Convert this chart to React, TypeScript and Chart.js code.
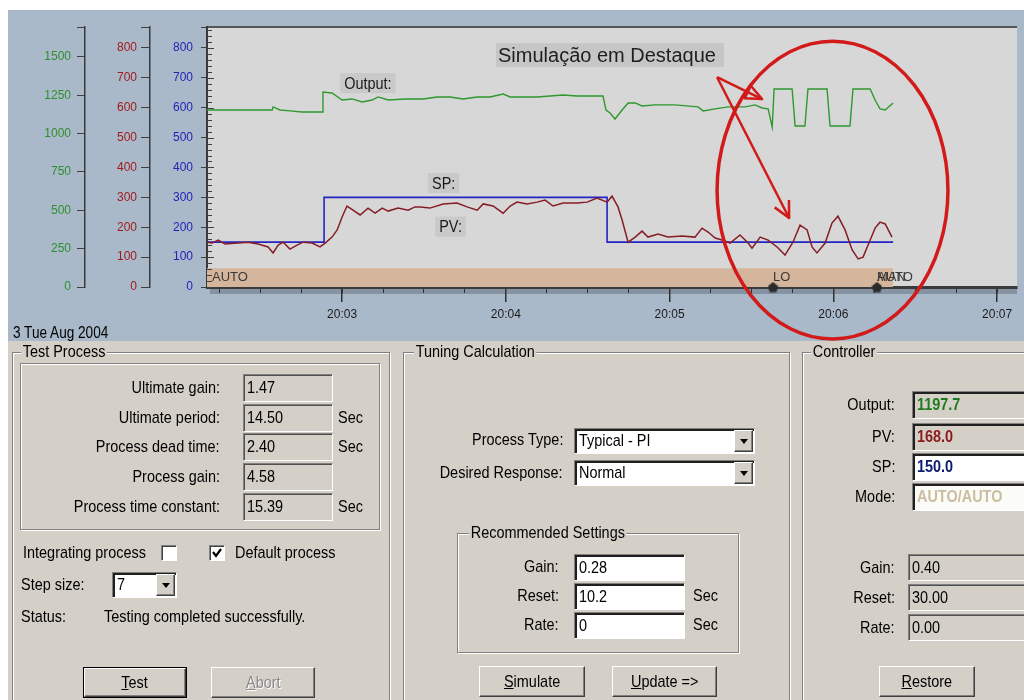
import React, { useEffect, useRef } from "react";
import { Chart, registerables } from "chart.js";

Chart.register(...registerables);

// ---------------- data (x = seconds after 20:00:00) ----------------
const outputTimes = [130.5, 154.4, 154.7, 157.3, 160.9, 165.3, 172.7, 173.0, 176.3, 180.0, 183.7, 187.3, 191.0, 193.2, 196.9, 203.1, 209.7, 214.8, 219.6, 224.3, 229.5, 234.2, 239.0, 241.6, 246.3, 251.4, 256.2, 261.0, 266.1, 275.6, 276.7, 278.2, 280.0, 282.6, 284.8, 287.4, 289.9, 294.7, 302.0, 310.4, 312.3, 316.7, 321.4, 327.7, 331.3, 333.9, 336.1, 337.6, 338.3, 344.9, 346.0, 349.6, 350.7, 357.7, 358.8, 366.1, 367.2, 373.5, 375.3, 377.1, 379.0, 381.9];
const outputValues = [1154, 1154, 1174, 1154, 1148, 1141, 1141, 1271, 1265, 1219, 1226, 1206, 1219, 1239, 1219, 1226, 1226, 1239, 1239, 1226, 1239, 1239, 1258, 1239, 1239, 1239, 1245, 1252, 1245, 1245, 1154, 1134, 1095, 1154, 1200, 1200, 1180, 1187, 1187, 1174, 1148, 1161, 1174, 1174, 1187, 1167, 1161, 1043, 1291, 1291, 1050, 1050, 1291, 1291, 1050, 1050, 1291, 1291, 1219, 1161, 1154, 1200];

const pvTimes = [130.5, 132.4, 134.6, 137.1, 141.9, 145.6, 149.2, 152.9, 154.7, 156.6, 158.4, 160.9, 163.5, 165.7, 169.0, 171.9, 173.8, 176.3, 178.2, 180.0, 181.8, 184.0, 186.6, 189.5, 192.1, 194.7, 196.9, 200.5, 204.2, 206.7, 208.6, 212.2, 217.0, 222.1, 225.8, 229.5, 231.7, 235.3, 239.0, 241.6, 244.1, 247.8, 251.4, 254.4, 257.3, 261.0, 266.1, 269.8, 273.4, 277.1, 278.9, 281.1, 282.6, 284.8, 287.4, 289.9, 292.1, 295.8, 299.4, 304.6, 309.3, 311.9, 314.1, 316.7, 319.2, 322.2, 325.8, 328.8, 330.2, 333.2, 336.1, 339.4, 342.3, 345.2, 347.8, 350.4, 352.2, 354.0, 357.0, 359.5, 361.7, 364.3, 366.9, 369.1, 370.9, 373.5, 375.3, 377.1, 379.0, 381.5];
const pvValues = [150, 147, 157, 144, 147, 150, 144, 134, 114, 140, 150, 127, 140, 150, 147, 134, 147, 167, 191, 234, 271, 257, 241, 264, 247, 264, 254, 264, 257, 268, 268, 264, 278, 281, 268, 257, 278, 271, 247, 271, 284, 278, 284, 291, 271, 281, 281, 284, 298, 284, 304, 268, 224, 150, 167, 187, 167, 177, 167, 171, 167, 197, 184, 164, 157, 147, 174, 147, 130, 167, 157, 134, 107, 150, 207, 191, 134, 114, 147, 214, 237, 191, 124, 94, 100, 157, 197, 217, 211, 167];

const spTimes = [130.5, 173.4, 277.1, 381.9];
const spValues = [150, 300, 150, 150];

const modeBandTimes = [130.5, 381.9];
const modeBandHeight = 63;
const modeBandLabel = "AUTO";
const modeEventTimes = [337.9, 376.0];
const modeEventLabels = ["LO", "MAN/AUTO"];

const timeMin = 130.5;
const timeMax = 427.3;
const majorStep = 60;
const minorStep = 15;
const pvSpMax = 870;
const pvSpStep = 100;
const outMax = 1695;
const outStep = 250;
const dateLabel = "3 Tue Aug 2004";

// annotations (data coordinates: seconds, SP/PV units)
const calloutText = "Simulação em Destaque";
const calloutAt = [236.4, 776];
const tagTexts = ["Output:", "SP:", "PV:"];
const tagTimes = [179.3, 211.5, 214.1];
const tagValues = [682, 348, 202];
const ringCenter = [359.7, 324];
const ringRadii = [42.3, 498];
const arrowFrom = [317.4, 702];
const arrowTips = [[333.9, 629], [343.8, 231]];

// ---------------- styles ----------------
const UI_FONT = "'Liberation Sans', Arial, sans-serif";
const NARROW = 0.85;
const FACE = "#d4d0c8";
const TOP_BG = "#a9b9c9";
const PLOT_BG = "#d7d7d7";
const RED = "#d21a1a";

const fmtTime = (v: number) => {
  const m = 20 * 60 + Math.round(v / 60);
  return `${Math.floor(m / 60)}:${String(m % 60).padStart(2, "0")}`;
};

const stepTicks = (min: number, max: number, step: number, withMax: boolean) => {
  const out: { value: number }[] = [];
  for (let v = Math.ceil(min / step - 1e-9) * step; v <= max + 1e-9; v += step) out.push({ value: v });
  if (withMax && out[out.length - 1].value !== max) out.push({ value: max });
  return out;
};

const decorPlugin = {
  id: "decor",
  beforeDraw(chart: any) {
    const { ctx, chartArea: a } = chart;
    ctx.save();
    ctx.fillStyle = PLOT_BG;
    ctx.fillRect(a.left, a.top, a.right - a.left, a.bottom - a.top);
    // soft shadow under the time axis
    ctx.fillStyle = "rgba(70,78,88,0.35)";
    ctx.fillRect(a.left + 3, a.bottom + 2, a.right - a.left - 3, 5);
    ctx.strokeStyle = "#555";
    ctx.lineWidth = 2;
    ctx.beginPath();
    ctx.moveTo(a.left, a.top);
    ctx.lineTo(a.right, a.top);
    ctx.stroke();
    ctx.restore();
  },
  afterDatasetsDraw(chart: any) {
    const { ctx, scales } = chart;
    const x = scales.x;
    const y = scales.y;
    ctx.save();
    ctx.font = "13px 'Liberation Sans', Arial, sans-serif";
    ctx.fillStyle = "#3a3a3a";
    ctx.textBaseline = "middle";
    const midY = y.getPixelForValue(modeBandHeight / 2);
    ctx.fillText(modeBandLabel, x.getPixelForValue(modeBandTimes[0]) + 5, midY);
    modeEventTimes.forEach((t, i) => {
      modeEventLabels[i].split("/").forEach((s) => ctx.fillText(s, x.getPixelForValue(t), midY));
    });
    ctx.restore();
  },
  afterDraw(chart: any) {
    const { ctx, chartArea: a, scales } = chart;
    const x = scales.x;
    const y = scales.y;
    const px = (t: number) => x.getPixelForValue(t);
    const py = (v: number) => y.getPixelForValue(v);
    ctx.save();
    // minor ticks of the SP axis, inside the plot
    ctx.strokeStyle = "#404040";
    ctx.lineWidth = 1;
    for (let v = 0; v < pvSpMax; v += 20) {
      const yy = Math.round(py(v)) + 0.5;
      ctx.beginPath();
      ctx.moveTo(a.left, yy);
      ctx.lineTo(a.left + (v % 100 === 0 ? 7 : 5), yy);
      ctx.stroke();
    }
    // series tags
    ctx.textBaseline = "middle";
    ctx.font = `17px ${UI_FONT}`;
    tagTexts.forEach((s, i) => {
      const w = ctx.measureText(s).width * NARROW;
      const l = px(tagTimes[i]);
      const c = py(tagValues[i]);
      ctx.fillStyle = "#c9c9c9";
      ctx.fillRect(l, c - 10, w + 8, 20);
      ctx.fillStyle = "#1a1a1a";
      ctx.save();
      ctx.translate(l + 4, c + 1);
      ctx.scale(NARROW, 1);
      ctx.fillText(s, 0, 0);
      ctx.restore();
    });
    // callout
    ctx.font = "20px 'Liberation Sans', Arial, sans-serif";
    const cw = ctx.measureText(calloutText).width;
    const cl = px(calloutAt[0]);
    const cc = py(calloutAt[1]);
    ctx.fillStyle = "#c6c6c6";
    ctx.fillRect(cl, cc - 12, cw + 10, 24);
    ctx.fillStyle = "#1e1e1e";
    ctx.fillText(calloutText, cl + 2, cc + 1);
    // highlight ring
    ctx.strokeStyle = RED;
    ctx.lineWidth = 3.5;
    const ex = px(ringCenter[0]);
    const ey = py(ringCenter[1]);
    const rx = px(ringCenter[0] + ringRadii[0]) - ex;
    const ry = ey - py(ringCenter[1] + ringRadii[1]);
    ctx.beginPath();
    ctx.ellipse(ex, ey, rx, ry, 0, 0, Math.PI * 2);
    ctx.stroke();
    // arrows
    ctx.lineWidth = 2.5;
    ctx.lineJoin = "round";
    const sx = px(arrowFrom[0]);
    const sy = py(arrowFrom[1]);
    arrowTips.forEach((tip, i) => {
      const tx = px(tip[0]);
      const ty = py(tip[1]);
      const dx = tx - sx;
      const dy = ty - sy;
      const len = Math.hypot(dx, dy);
      const ux = dx / len;
      const uy = dy / len;
      ctx.beginPath();
      ctx.moveTo(sx, sy);
      ctx.lineTo(tx, ty);
      ctx.stroke();
      const back = 16;
      const half = i === 0 ? 7 : 8;
      const bx = tx - ux * back;
      const by = ty - uy * back;
      ctx.beginPath();
      ctx.moveTo(bx - uy * half, by + ux * half);
      ctx.lineTo(tx, ty);
      ctx.lineTo(bx + uy * half, by - ux * half);
      if (i === 0) ctx.closePath();
      ctx.stroke();
    });
    ctx.restore();
  },
};

function ChartPanel() {
  const ref = useRef<HTMLCanvasElement | null>(null);
  useEffect(() => {
    if (!ref.current) return;
    const mk = document.createElement("canvas");
    mk.width = 11;
    mk.height = 11;
    const mc = mk.getContext("2d")!;
    mc.fillStyle = "#2b2b2b";
    mc.beginPath();
    mc.moveTo(5.5, 0.5);
    mc.lineTo(10.5, 4.5);
    mc.lineTo(9, 10.5);
    mc.lineTo(2, 10.5);
    mc.lineTo(0.5, 4.5);
    mc.closePath();
    mc.fill();

    const tickFont = { family: "'Liberation Sans', Arial, sans-serif", size: 12 };
    const yAxis = (weight: number, max: number, step: number, color: string, tl: number, pad: number, width: number) => ({
      type: "linear" as const,
      position: "left" as const,
      weight,
      min: 0,
      max,
      afterBuildTicks: (s: any) => {
        s.ticks = stepTicks(0, max, step, true);
      },
      ticks: {
        stepSize: step,
        autoSkip: false,
        color,
        font: tickFont,
        padding: pad,
        callback: (v: any) => (Math.abs(Number(v) % step) < 1e-6 ? String(v) : ""),
      },
      grid: { drawOnChartArea: false, tickLength: tl, color: "#404040", lineWidth: 1 },
      border: { color: "#3a3a3a", width: weight === 0 ? 2 : 1.5 },
      afterFit: (s: any) => {
        s.width = width;
      },
    });

    const chart = new Chart(ref.current, {
      type: "line",
      data: {
        datasets: [
          {
            label: "Mode markers",
            data: modeEventTimes.map((t) => ({ x: t, y: 0 })),
            yAxisID: "y",
            showLine: false,
            pointStyle: mk as any,
            pointRadius: 5,
            clip: false as any,
            order: 0,
          },
          {
            label: "Output",
            data: outputTimes.map((t, i) => ({ x: t, y: outputValues[i] })),
            yAxisID: "yG",
            borderColor: "#2f982f",
            borderWidth: 1.4,
            pointRadius: 0,
            order: 1,
          },
          {
            label: "PV",
            data: pvTimes.map((t, i) => ({ x: t, y: pvValues[i] })),
            yAxisID: "yR",
            borderColor: "#861c26",
            borderWidth: 1.5,
            pointRadius: 0,
            order: 1,
          },
          {
            label: "SP",
            data: spTimes.map((t, i) => ({ x: t, y: spValues[i] })),
            yAxisID: "y",
            stepped: true,
            borderColor: "#2424c4",
            borderWidth: 1.6,
            pointRadius: 0,
            order: 2,
          },
          {
            label: "Mode",
            data: modeBandTimes.map((t) => ({ x: t, y: modeBandHeight })),
            yAxisID: "y",
            borderWidth: 0,
            borderColor: "rgba(0,0,0,0)",
            backgroundColor: "#d5b69c",
            fill: "origin",
            pointRadius: 0,
            order: 10,
          },
        ],
      },
      options: {
        responsive: false,
        animation: false,
        events: [],
        layout: { padding: { left: 0, right: 7, top: 17, bottom: 0 } },
        plugins: { legend: { display: false }, tooltip: { enabled: false } },
        scales: {
          x: {
            type: "linear",
            position: "bottom",
            weight: 1,
            min: timeMin,
            max: timeMax,
            afterBuildTicks: (s: any) => {
              s.ticks = stepTicks(timeMin, timeMax, majorStep, false);
            },
            ticks: {
              stepSize: majorStep,
              autoSkip: false,
              maxRotation: 0,
              color: "#1a1a1a",
              font: tickFont,
              padding: 5,
              callback: (v: any) => fmtTime(Number(v)),
            },
            grid: { drawOnChartArea: false, tickLength: 15, color: "#303030", lineWidth: 1.5 },
            border: { color: "#3b3b3b", width: 3 },
            afterFit: (s: any) => {
              s.height = 54;
            },
          },
          x2: {
            type: "linear",
            position: "bottom",
            weight: 0,
            min: timeMin,
            max: timeMax,
            afterBuildTicks: (s: any) => {
              s.ticks = stepTicks(timeMin, timeMax, minorStep, false);
            },
            ticks: { stepSize: minorStep, display: false, autoSkip: false },
            grid: { drawOnChartArea: false, tickLength: 6, color: "#303030", lineWidth: 1 },
            border: { display: false },
            afterFit: (s: any) => {
              s.height = 0;
            },
          },
          y: yAxis(0, pvSpMax, pvSpStep, "#2323b4", 6, 8, 57),
          yR: yAxis(1, pvSpMax, pvSpStep, "#a01c1c", 9, 4, 65),
          yG: yAxis(2, outMax, outStep, "#2e8f2e", 8, 6, 77),
        },
      } as any,
      plugins: [decorPlugin],
    });
    return () => chart.destroy();
  }, []);
  return (
    <canvas
      ref={ref}
      width={1016}
      height={331}
      style={{ position: "absolute", left: 8, top: 10, width: 1016, height: 331, background: TOP_BG }}
    />
  );
}

// ---------------- classic Windows widgets ----------------
function N({ children, origin = "left" }: { children: React.ReactNode; origin?: string }) {
  return (
    <span style={{ display: "inline-block", transform: `scaleX(${NARROW})`, transformOrigin: origin, whiteSpace: "nowrap" }}>
      {children}
    </span>
  );
}

type TxtProps = { x: number; y: number; text: React.ReactNode; align?: "left" | "right"; w?: number; style?: React.CSSProperties };
function Txt({ x, y, text, align = "left", w = 240, style }: TxtProps) {
  const s: React.CSSProperties = {
    position: "absolute",
    top: y - 10,
    height: 20,
    lineHeight: "20px",
    whiteSpace: "nowrap",
    fontFamily: UI_FONT,
    fontSize: 17,
    color: "#000",
  };
  if (align === "right") {
    s.left = x - w;
    s.width = w;
    s.textAlign = "right";
  } else s.left = x;
  return (
    <div style={{ ...s, ...style }}>
      <N origin={align === "right" ? "right" : "left"}>{text}</N>
    </div>
  );
}

type EditProps = { x: number; y: number; w: number; h: number; value: string; bg?: string; color?: string; bold?: boolean; deep?: boolean };
function Edit({ x, y, w, h, value, bg = FACE, color = "#000", bold = false, deep = false }: EditProps) {
  return (
    <div
      style={{
        position: "absolute",
        left: x,
        top: y,
        width: w,
        height: h,
        boxSizing: "border-box",
        background: bg,
        borderStyle: "solid",
        borderWidth: 1,
        borderColor: "#808080 #ffffff #ffffff #808080",
        boxShadow: deep ? "inset 2px 2px 0 #202020" : "inset 1px 1px 0 #505050",
        fontFamily: UI_FONT,
        fontSize: 17,
        lineHeight: `${h - 2}px`,
        paddingLeft: deep ? 4 : 3,
        color,
        fontWeight: bold ? "bold" : "normal",
        overflow: "hidden",
        whiteSpace: "nowrap",
      }}
    >
      <N>{value}</N>
    </div>
  );
}

function Combo({ x, y, w, h, value }: { x: number; y: number; w: number; h: number; value: string }) {
  return (
    <div style={{ position: "absolute", left: x, top: y, width: w, height: h }}>
      <Edit x={0} y={0} w={w} h={h} value={value} bg="#ffffff" deep />
      <div
        style={{
          position: "absolute",
          right: 2,
          top: 2,
          width: 19,
          height: h - 4,
          boxSizing: "border-box",
          background: FACE,
          borderStyle: "solid",
          borderWidth: 1,
          borderColor: "#ffffff #404040 #404040 #ffffff",
          boxShadow: "inset -1px -1px 0 #808080",
          display: "flex",
          alignItems: "center",
          justifyContent: "center",
        }}
      >
        <div style={{ width: 0, height: 0, borderLeft: "4px solid transparent", borderRight: "4px solid transparent", borderTop: "5px solid #000" }} />
      </div>
    </div>
  );
}

type BtnProps = { x: number; y: number; w: number; h: number; accel: string; rest: string; disabled?: boolean; isDefault?: boolean };
function Btn({ x, y, w, h, accel, rest, disabled = false, isDefault = false }: BtnProps) {
  return (
    <div
      style={{
        position: "absolute",
        left: x,
        top: y,
        width: w,
        height: h,
        boxSizing: "border-box",
        background: FACE,
        border: isDefault ? "1px solid #000" : "none",
      }}
    >
      <div
        style={{
          position: "absolute",
          inset: 0,
          borderStyle: "solid",
          borderWidth: 1,
          borderColor: "#ffffff #404040 #404040 #ffffff",
          boxShadow: "inset -1px -1px 0 #808080",
          fontFamily: UI_FONT,
          fontSize: 17,
          display: "flex",
          alignItems: "center",
          justifyContent: "center",
          color: disabled ? "#8a8a8a" : "#000",
          textShadow: disabled ? "1px 1px 0 #ffffff" : "none",
        }}
      >
        <N origin="center">
          <span style={{ textDecoration: "underline" }}>{accel}</span>
          {rest}
        </N>
      </div>
    </div>
  );
}

function Group({ x, y, w, h, title, titleX = 10 }: { x: number; y: number; w: number; h: number; title: string; titleX?: number }) {
  return (
    <div
      style={{
        position: "absolute",
        left: x,
        top: y,
        width: w,
        height: h,
        boxSizing: "border-box",
        border: "1px solid #808080",
        boxShadow: "inset 1px 1px 0 #ffffff, 1px 1px 0 #ffffff",
      }}
    >
      <div
        style={{
          position: "absolute",
          left: titleX,
          top: -11,
          background: FACE,
          padding: "0 2px",
          fontFamily: UI_FONT,
          fontSize: 17,
          lineHeight: "20px",
          whiteSpace: "nowrap",
          transform: `scaleX(${NARROW})`,
          transformOrigin: "left",
        }}
      >
        {title}
      </div>
    </div>
  );
}

function Check({ x, y, checked }: { x: number; y: number; checked: boolean }) {
  return (
    <div
      style={{
        position: "absolute",
        left: x,
        top: y,
        width: 16,
        height: 16,
        boxSizing: "border-box",
        background: "#fff",
        borderStyle: "solid",
        borderWidth: 1,
        borderColor: "#808080 #ffffff #ffffff #808080",
        boxShadow: "inset 1px 1px 0 #404040",
      }}
    >
      {checked && (
        <svg width="14" height="14" style={{ position: "absolute", left: 0, top: 0 }}>
          <polyline points="3,6 6,10 11,3" fill="none" stroke="#000" strokeWidth="2.2" />
        </svg>
      )}
    </div>
  );
}

const testRows = ["Ultimate gain:", "Ultimate period:", "Process dead time:", "Process gain:", "Process time constant:"];
const testValues = ["1.47", "14.50", "2.40", "4.58", "15.39"];
const testUnits = ["", "Sec", "Sec", "", "Sec"];
const testRowY = [388, 418, 447, 477, 507];

const recLabels = ["Gain:", "Reset:", "Rate:"];
const recValues = ["0.28", "10.2", "0"];
const recUnits = ["", "Sec", "Sec"];
const recRowY = [567, 596, 625];

const ctlLabels = ["Output:", "PV:", "SP:", "Mode:"];
const ctlValues = ["1197.7", "168.0", "150.0", "AUTO/AUTO"];
const ctlColors = ["#1f7a1f", "#8b1a1a", "#0c1a70", "#cbbd9f"];
const ctlBgs = [FACE, FACE, "#ffffff", "#fbfbf8"];
const ctlRowY = [405, 437, 467, 497];

const tuneLabels = ["Gain:", "Reset:", "Rate:"];
const tuneValues = ["0.40", "30.00", "0.00"];
const tuneRowY = [568, 598, 628];

export default function App() {
  return (
    <div style={{ position: "absolute", left: 0, top: 0, width: 1024, height: 700, overflow: "hidden", background: "#fff" }}>
      <ChartPanel />
      <Txt x={13} y={333} text={dateLabel} style={{ fontSize: 16 }} />
      <div style={{ position: "absolute", left: 8, top: 341, width: 1016, height: 359, background: FACE }} />

      {/* Test Process */}
      <Group x={12} y={352} w={378} h={360} title="Test Process" titleX={8} />
      <div
        style={{
          position: "absolute",
          left: 20,
          top: 363,
          width: 360,
          height: 167,
          boxSizing: "border-box",
          border: "1px solid #808080",
          boxShadow: "inset 1px 1px 0 #ffffff, 1px 1px 0 #ffffff",
        }}
      />
      {testRows.map((r, i) => (
        <React.Fragment key={r}>
          <Txt x={220} y={testRowY[i]} text={r} align="right" />
          <Edit x={243} y={testRowY[i] - 14} w={90} h={28} value={testValues[i]} />
          {testUnits[i] && <Txt x={338} y={testRowY[i]} text={testUnits[i]} />}
        </React.Fragment>
      ))}
      <Txt x={23} y={553} text="Integrating process" />
      <Check x={161} y={545} checked={false} />
      <Check x={209} y={545} checked />
      <Txt x={235} y={553} text="Default process" />
      <Txt x={21} y={585} text="Step size:" />
      <Combo x={112} y={572} w={65} h={26} value="7" />
      <Txt x={21} y={617} text="Status:" />
      <Txt x={104} y={617} text="Testing completed successfully." />
      <Btn x={83} y={667} w={104} h={31} accel="T" rest="est" isDefault />
      <Btn x={211} y={667} w={104} h={31} accel="A" rest="bort" disabled />

      {/* Tuning Calculation */}
      <Group x={403} y={352} w={387} h={360} title="Tuning Calculation" titleX={10} />
      <Txt x={563} y={440} text="Process Type:" align="right" />
      <Combo x={574} y={428} w={181} h={26} value="Typical - PI" />
      <Txt x={563} y={473} text="Desired Response:" align="right" />
      <Combo x={574} y={460} w={181} h={26} value="Normal" />
      <Group x={457} y={533} w={282} h={120} title="Recommended Settings" titleX={11} />
      {recLabels.map((r, i) => (
        <React.Fragment key={r}>
          <Txt x={559} y={recRowY[i]} text={r} align="right" />
          <Edit x={574} y={recRowY[i] - 13} w={111} h={27} value={recValues[i]} bg="#ffffff" deep />
          {recUnits[i] && <Txt x={693} y={recRowY[i]} text={recUnits[i]} />}
        </React.Fragment>
      ))}
      <Btn x={479} y={666} w={106} h={31} accel="S" rest="imulate" />
      <Btn x={612} y={666} w={105} h={31} accel="U" rest="pdate =>" />

      {/* Controller */}
      <Group x={802} y={352} w={240} h={360} title="Controller" titleX={8} />
      {ctlLabels.map((r, i) => (
        <React.Fragment key={r}>
          <Txt x={895} y={ctlRowY[i]} text={r} align="right" />
          <Edit x={912} y={ctlRowY[i] - 14} w={130} h={28} value={ctlValues[i]} bg={ctlBgs[i]} color={ctlColors[i]} bold deep />
        </React.Fragment>
      ))}
      {tuneLabels.map((r, i) => (
        <React.Fragment key={"t" + r}>
          <Txt x={895} y={tuneRowY[i]} text={r} align="right" />
          <Edit x={908} y={tuneRowY[i] - 14} w={130} h={27} value={tuneValues[i]} />
        </React.Fragment>
      ))}
      <Btn x={879} y={666} w={96} h={31} accel="R" rest="estore" />
    </div>
  );
}
